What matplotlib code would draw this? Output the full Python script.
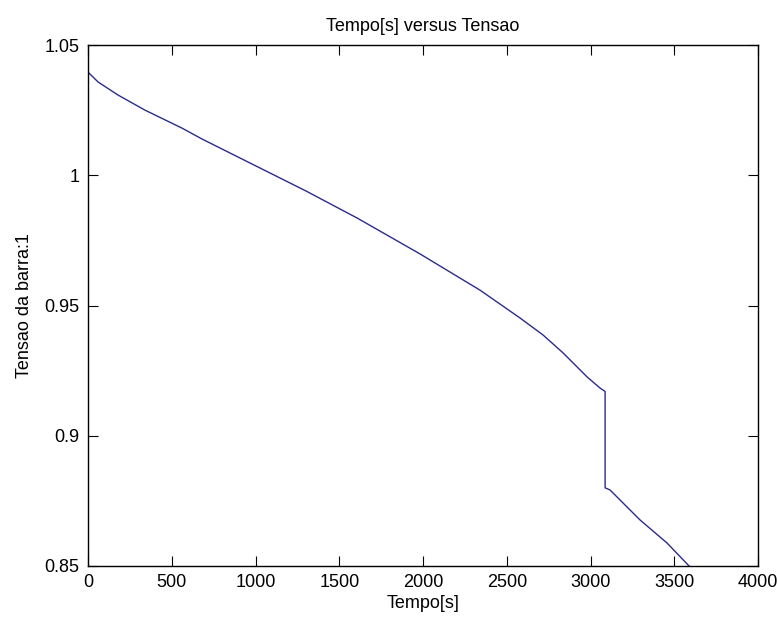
import matplotlib
matplotlib.use("Agg")
import matplotlib.pyplot as plt

# Bus voltage sampled along the simulation (seconds, p.u.)
tempo = [0, 60, 179, 340, 561, 681, 967, 1300, 1606, 1982, 2340, 2579,
         2716, 2836, 2979, 3057, 3087, 3087, 3116, 3295, 3355, 3457, 3588]
tensao = [1.0396, 1.0358, 1.0308, 1.0250, 1.0181, 1.0139, 1.0047, 0.9940,
          0.9836, 0.9698, 0.9559, 0.9452, 0.9387, 0.9318, 0.9226, 0.9183,
          0.9170, 0.8800, 0.8792, 0.8677, 0.8644, 0.8588, 0.8500]

xticks = [0, 500, 1000, 1500, 2000, 2500, 3000, 3500, 4000]
yticks = [0.85, 0.9, 0.95, 1.0, 1.05]
yticklabels = ["0.85", "0.9", "0.95", "1", "1.05"]

plt.rcParams['font.family'] = ['Liberation Sans', 'DejaVu Sans']
fs = 13

fig = plt.figure(figsize=(7.77, 6.21), dpi=100)
ax = fig.add_axes([0.1133, 0.0886, 0.8623, 0.8389])

ax.plot(tempo, tensao, '-', color='#2b2b8c', lw=1.0)

ax.set_xlim(0, 4000)
ax.set_ylim(0.85, 1.05)
ax.set_xticks(xticks)
ax.set_xticklabels([str(t) for t in xticks])
ax.set_yticks(yticks)
ax.set_yticklabels(yticklabels)
ax.tick_params(direction='in', length=7, width=0.8, top=True, right=True,
               pad=6, labelsize=fs)
for s in ax.spines.values():
    s.set_linewidth(1.0)

ax.set_title("Tempo[s] versus Tensao", fontsize=fs, pad=10)
ax.set_xlabel("Tempo[s]", fontsize=fs, labelpad=3)
ax.set_ylabel("Tensao da barra:1", fontsize=fs, labelpad=8)

fig.savefig("out.png", dpi=100)
